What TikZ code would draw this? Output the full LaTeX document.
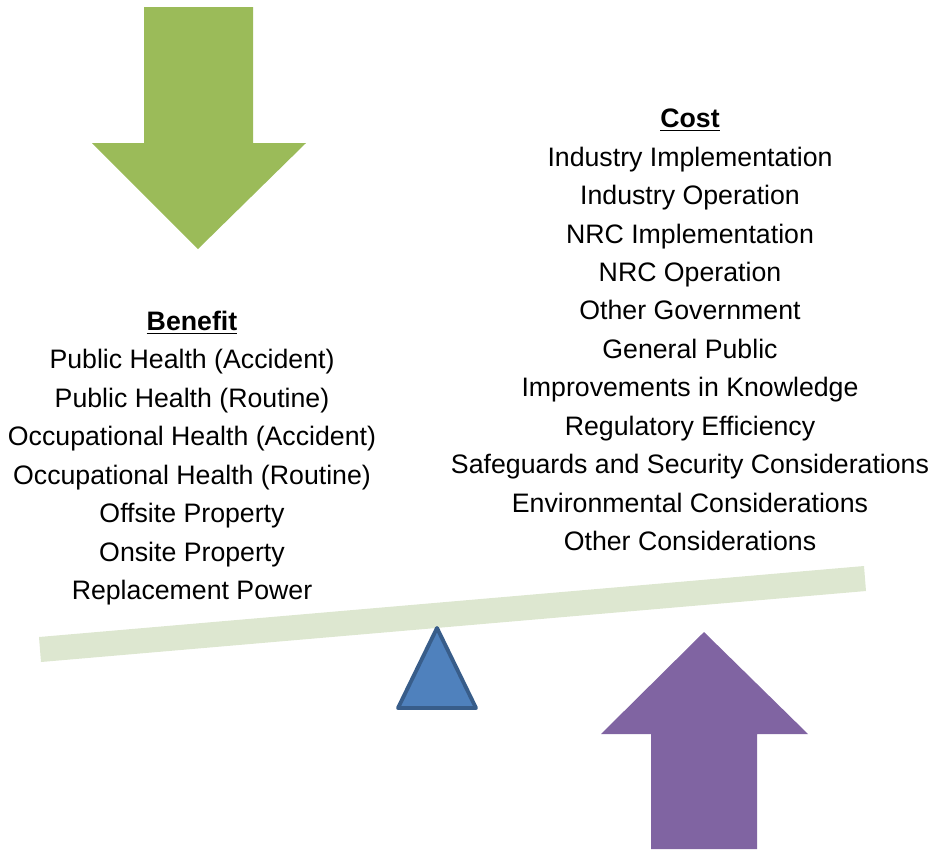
\documentclass[tikz,border=0pt]{standalone}
\usepackage{fontspec}
\setmainfont{Liberation Sans}
\usepackage{tikz}
\usetikzlibrary{positioning}

\definecolor{benefitgreen}{RGB}{155,187,89}
\definecolor{costpurple}{RGB}{128,100,162}
\definecolor{pivotblue}{RGB}{79,129,189}
\definecolor{pivotedge}{RGB}{56,93,138}
\definecolor{beamgreen}{RGB}{221,231,208}

\tikzset{
  listtext/.style={align=center, inner sep=0pt, font=\fontsize{15.2}{21.9}\selectfont},
  heading/.style={font=\bfseries}
}

\begin{document}
\begin{tikzpicture}[x=0.02cm, y=-0.02cm]
        \useasboundingbox (0,0) rectangle (933,850);
        % arrows
        \fill[benefitgreen] (144,7) -- (253,7) -- (253,143) -- (306,143) -- (198,249) -- (92,143) -- (144,143) -- cycle;
        \fill[costpurple] (651,849) -- (757,849) -- (757,734) -- (808,734) -- (704,632) -- (601,734) -- (651,734) -- cycle;
        % beam and pivot
        \fill[beamgreen] (39,637) -- (864,566) -- (866,591) -- (41,662) -- cycle;
        \draw[pivotedge, fill=pivotblue, line width=2.2pt, line join=round] (437,628) -- (476,708) -- (398,708) -- cycle;
        % lists
        \node[listtext] (benefit) at (192,458) {\underline{\textbf{Benefit}}\\
          Public Health (Accident)\\
          Public Health (Routine)\\
          Occupational Health (Accident)\\
          Occupational Health (Routine)\\
          Offsite Property\\
          Onsite Property\\
          Replacement Power};
        \node[listtext] (cost) at (690,330) {\underline{\textbf{Cost}}\\
          Industry Implementation\\
          Industry Operation\\
          NRC Implementation\\
          NRC Operation\\
          Other Government\\
          General Public\\
          Improvements in Knowledge\\
          Regulatory Efficiency\\
          Safeguards and Security Considerations\\
          Environmental Considerations\\
          Other Considerations};
        \end{tikzpicture}
\end{document}
